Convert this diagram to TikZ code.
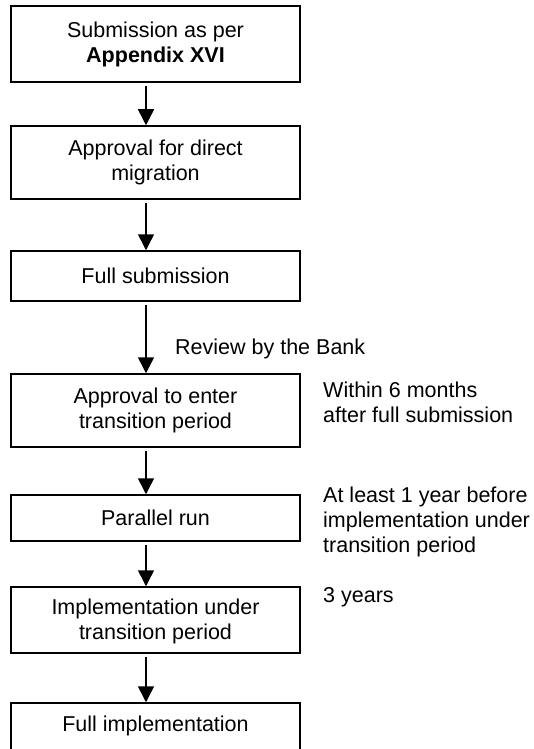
\documentclass[tikz,border=0pt]{standalone}
\usepackage{fontspec}
\setmainfont{Liberation Sans}
\usetikzlibrary{arrows.meta}
\begin{document}
\begin{tikzpicture}[x=1pt,y=-1pt,
  box/.style={draw, line width=1.5pt, minimum width=289pt, align=center, inner sep=0pt,
    font=\fontsize{21.5}{25}\selectfont},
  note/.style={anchor=west, align=left, inner sep=0pt, font=\fontsize{21.5}{25}\selectfont},
  arr/.style={line width=1.5pt, -{Triangle[width=16pt,length=16pt]}}]
\useasboundingbox (0,0) rectangle (534,749);
\clip (0,0) rectangle (534,749);
\node[box, minimum height=76pt] (b1) at (155.5,44) {Submission as per\\\textbf{Appendix XVI}};
\node[box, minimum height=73pt] (b2) at (155.5,162.5) {Approval for direct\\migration};
\node[box, minimum height=50pt] (b3) at (155.5,276) {Full submission};
\node[box, minimum height=73pt] (b4) at (155.5,410.5) {Approval to enter\\transition period};
\node[box, minimum height=46pt] (b5) at (155.5,518) {Parallel run};
\node[box, minimum height=66pt] (b6) at (155.5,620) {\strut Implementation under\\transition period\vphantom{p}\rule[-1pt]{0pt}{1pt}};
\node[box, minimum height=80pt] (b7) at (155.5,743) {};
\node[font=\fontsize{21.5}{25}\selectfont, inner sep=0pt] (t7) at (155.5,726) {Full implementation};
\node[note] (n1) at (175,349) {Review by the Bank};
\node[note] (n2) at (323,402.5) {Within 6 months\\after full submission};
\node[note] (n3) at (323,522) {At least 1 year before\\implementation under\\transition period};
\node[note] (n4) at (323,597) {3 years};
\foreach \a/\b in {b1/b2,b2/b3,b3/b4,b4/b5,b5/b6,b6/b7}
  \draw[arr] ([xshift=-9.5pt,yshift=-3pt]\a.south) -- ([xshift=-9.5pt]\b.north);
\end{tikzpicture}
\end{document}
